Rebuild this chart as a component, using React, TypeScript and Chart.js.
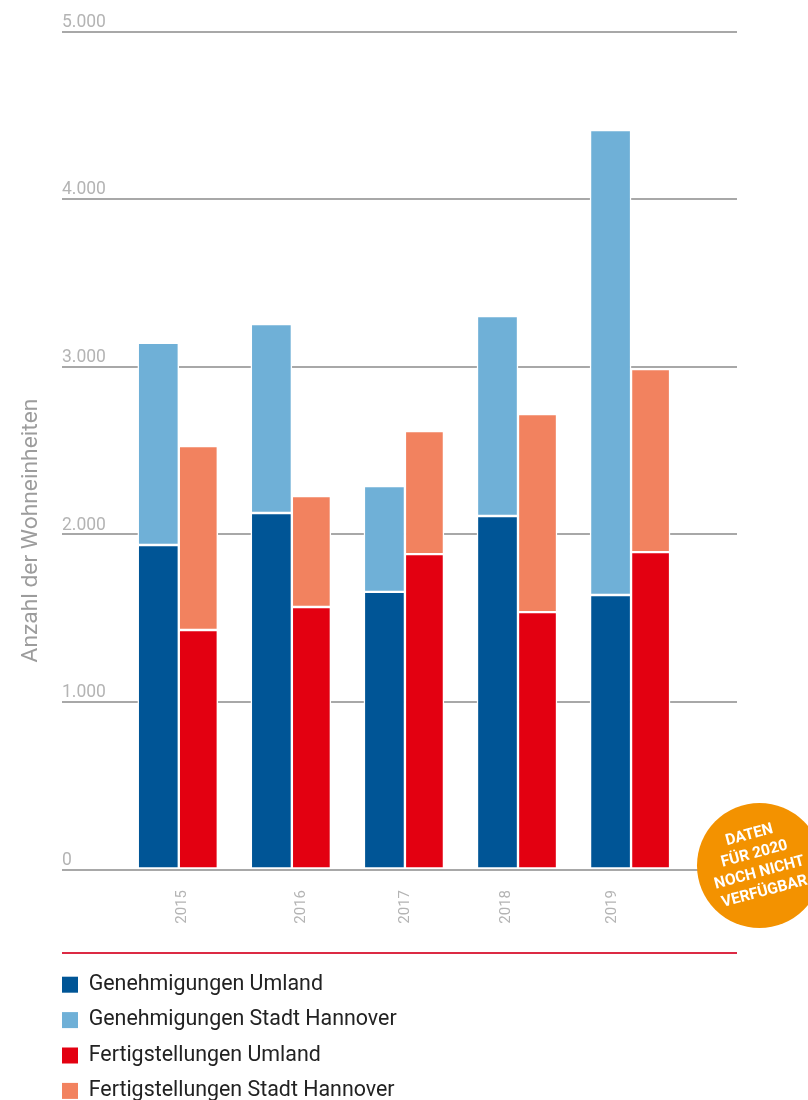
import React, { useEffect, useRef } from "react";
import { Chart, registerables } from "chart.js";

Chart.register(...registerables);

const years = [2015, 2016, 2017, 2018, 2019];
const genehmigungenUmland = [1936, 2127, 1656, 2109, 1638];
const genehmigungenStadt = [1206, 1128, 632, 1193, 2774];
const fertigstellungenUmland = [1429, 1566, 1882, 1536, 1894];
const fertigstellungenStadt = [1098, 662, 734, 1182, 1092];
const yTicks = [0, 1000, 2000, 3000, 4000, 5000];
const yTitle = "Anzahl der Wohneinheiten";
const badgeLines = ["DATEN", "FÜR 2020", "NOCH NICHT", "VERFÜGBAR"];

const FONT = "Roboto";
const tickLabelNudge = [3, 9, 0, -12, -19];

const pts = (a: number[]) => a.map((y, i) => ({ x: years[i], y }));

const decor = {
  id: "decor",
  beforeDraw(chart: any) {
    const lg = chart.legend;
    lg.left = 48;
    lg.top = 960;
    lg.bottom = 1200;
    const xs = chart.scales.x;
    if (!xs.__nudged) {
      xs.getLabelItems(chart.chartArea).forEach((it: any, i: number) => {
        it.options.translation[0] += tickLabelNudge[i];
      });
      xs.__nudged = true;
    }
    const ys = chart.scales.y;
    if (!ys.__titleMoved) {
      const orig = ys.drawTitle;
      ys.drawTitle = function () {
        const c = this.ctx;
        c.save();
        c.translate(0, 80);
        orig.call(this);
        c.restore();
      };
      ys.__titleMoved = true;
    }
  },
  afterDraw(chart: any) {
    const c = chart.ctx;
    const { left, right } = chart.chartArea;
    c.save();
    c.fillStyle = "#dc2a44";
    c.fillRect(left, 952, right - left, 2);
    c.fillStyle = "#f39200";
    c.beginPath();
    c.arc(759.5, 865.5, 62.5, 0, Math.PI * 2);
    c.fill();
    c.translate(757, 863.5);
    c.rotate((-15 * Math.PI) / 180);
    c.fillStyle = "#ffffff";
    c.font = `bold 15.5px ${FONT}`;
    c.textAlign = "center";
    c.textBaseline = "middle";
    badgeLines.forEach((t, i) => c.fillText(t, 0, (i - 1.5) * 19.5));
    c.restore();
  },
};

export default function App() {
  const ref = useRef<HTMLCanvasElement>(null);
  useEffect(() => {
    const ds = (label: string, data: number[], color: string, stack: string, barThickness: number) => ({
      label,
      data: pts(data),
      backgroundColor: color,
      borderColor: "#ffffff",
      borderWidth: 1.5,
      borderSkipped: false,
      stack,
      barThickness,
    });
    const chart = new Chart(ref.current!, {
      type: "bar",
      data: {
        datasets: [
          ds("Genehmigungen Umland", genehmigungenUmland, "#005596", "g", 41),
          ds("Genehmigungen Stadt Hannover", genehmigungenStadt, "#6fb0d7", "g", 41),
          ds("Fertigstellungen Umland", fertigstellungenUmland, "#e30011", "f", 39),
          ds("Fertigstellungen Stadt Hannover", fertigstellungenStadt, "#f2825f", "f", 39),
        ],
      },
      options: {
        animation: false,
        responsive: false,
        layout: { padding: { top: 31.5, right: 71, bottom: 170.5, left: 0 } },
        plugins: {
          tooltip: { enabled: false },
          legend: {
            position: "chartArea",
            align: "start",
            labels: {
              boxWidth: 16,
              boxHeight: 16,
              padding: 14,
              color: "#222222",
              font: { family: FONT, size: 21.4, lineHeight: 25 / 21.4 },
              generateLabels: (c: any) =>
                Chart.defaults.plugins.legend.labels.generateLabels(c).map((l: any) => ({ ...l, lineWidth: 0 })),
            },
          },
        },
        scales: {
          x: {
            type: "linear",
            stacked: true,
            offset: false,
            min: 2013.967,
            max: 2019.937,
            afterBuildTicks: (s: any) => {
              s.ticks = years.map((value) => ({ value }));
            },
            afterFit: (s: any) => {
              s.height = 60;
            },
            grid: { display: false, drawTicks: false },
            border: { display: false },
            ticks: {
              autoSkip: false,
              minRotation: 90,
              maxRotation: 90,
              padding: 20.5,
              color: "#b4b4b4",
              font: { family: FONT, size: 15 },
              callback: (v: any) => String(v),
            },
          },
          y: {
            stacked: true,
            min: 0,
            max: 5000,
            afterBuildTicks: (s: any) => {
              s.ticks = yTicks.map((value) => ({ value }));
            },
            afterFit: (s: any) => {
              s.width = 62;
            },
            grid: { color: "#a8a8a8", lineWidth: 2, drawTicks: false },
            border: { display: false },
            title: {
              display: true,
              text: yTitle,
              color: "#9c9c9c",
              font: { family: FONT, size: 22.8, lineHeight: 1.2 },
              padding: { top: 18, bottom: 0 },
            },
            ticks: {
              mirror: true,
              padding: 0,
              labelOffset: -9,
              color: "#b4b4b4",
              font: { family: FONT, size: 17.5 },
              callback: (v: any) => Number(v).toLocaleString("de-DE"),
            },
          },
        },
      },
      plugins: [decor],
    } as any);
    return () => chart.destroy();
  }, []);
  return (
    <div style={{ position: "absolute", left: 0, top: 0, width: 808, height: 1100, overflow: "hidden" }}>
      <canvas ref={ref} width={808} height={1100} style={{ display: "block" }} />
    </div>
  );
}
